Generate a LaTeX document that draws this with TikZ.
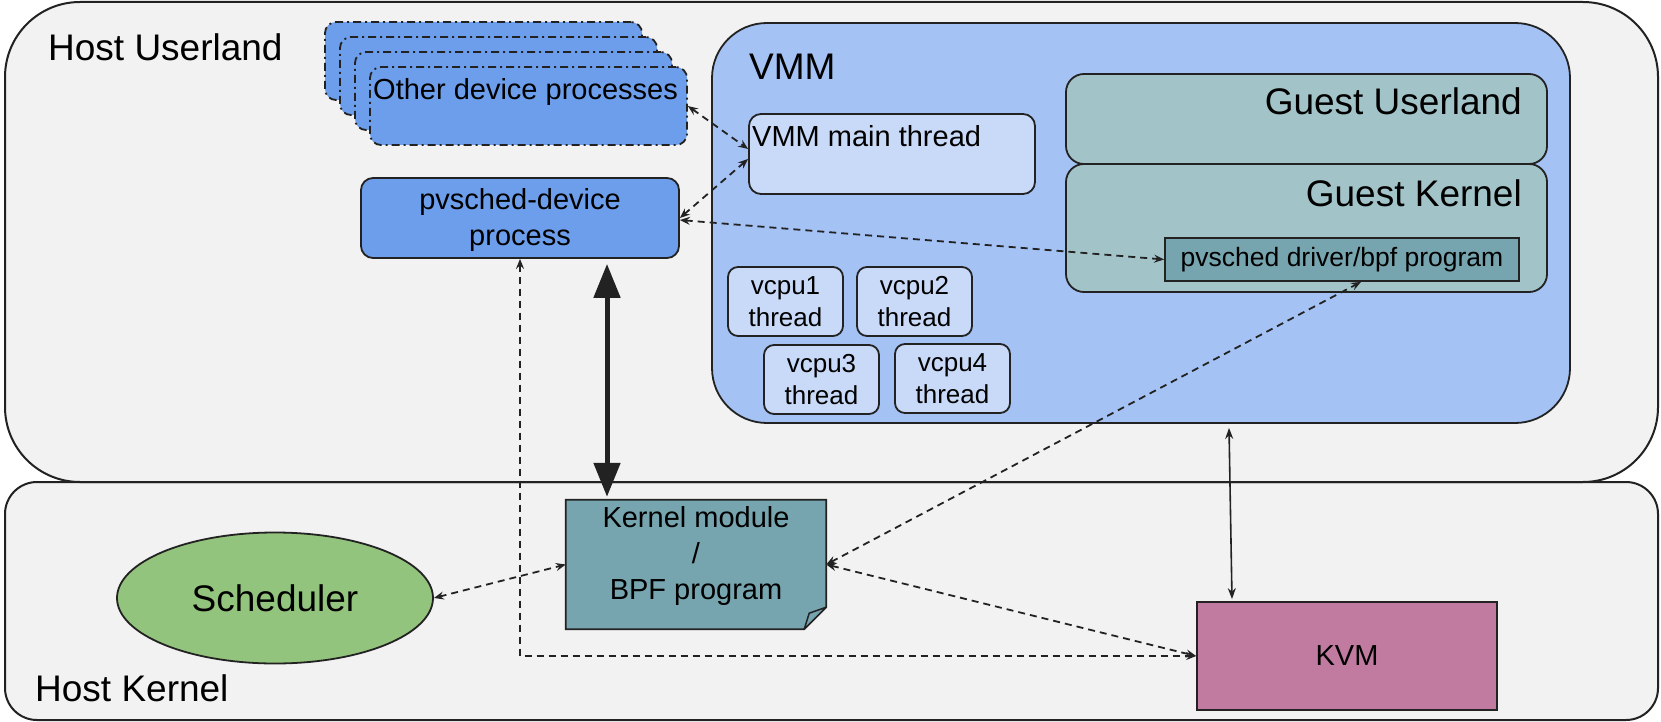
\documentclass[tikz,border=0pt]{standalone}
\usepackage{fontspec}
\setmainfont{Liberation Sans}
\usetikzlibrary{arrows.meta,calc,shapes.geometric}
\definecolor{bgg}{HTML}{F2F2F2}
\definecolor{procblue}{HTML}{6D9EEB}
\definecolor{vmmblue}{HTML}{A4C2F4}
\definecolor{thrblue}{HTML}{C9DAF8}
\definecolor{guestc}{HTML}{A2C4C9}
\definecolor{drvc}{HTML}{76A5AF}
\definecolor{schedc}{HTML}{93C47D}
\definecolor{kvmc}{HTML}{C27BA0}
\definecolor{strk}{HTML}{222222}
\newcommand{\fsA}{\fontsize{37}{42}\selectfont}
\newcommand{\fsB}{\fontsize{29}{36}\selectfont}
\newcommand{\fsC}{\fontsize{26}{32}\selectfont}
\newcommand{\fsD}{\fontsize{26.5}{32}\selectfont}
\begin{document}
\begin{tikzpicture}[x=1pt,y=-1pt,
  box/.style={draw=strk, line width=1.8pt, inner sep=0pt, text=black},
  rbox/.style={box, rounded corners=#1},
  odp/.style={rbox=11pt, fill=procblue, minimum width=317pt, minimum height=78pt,
     dash pattern=on 8pt off 4pt on 2pt off 4pt},
  thr/.style={rbox=10pt, fill=thrblue, minimum width=115pt, minimum height=69pt,
     align=center, font=\fsC},
  lbl/.style={inner sep=0pt, text=black},
  darr/.style={draw=strk, line width=1.8pt, dash pattern=on 7pt off 5pt,
     {Stealth[length=10pt,width=8pt,inset=3.5pt]}-{Stealth[length=10pt,width=8pt,inset=3.5pt]}},
  sarr/.style={draw=strk, line width=1.6pt,
     {Stealth[length=11pt,width=8pt,inset=3.5pt]}-{Stealth[length=11pt,width=8pt,inset=3.5pt]}},
  bigarr/.style={draw=strk, line width=5pt,
     {Triangle[length=34pt,width=26pt]}-{Triangle[length=34pt,width=26pt]}}
]
\useasboundingbox (0,0) rectangle (1661,722);
\fill[white] (0,0) rectangle (1661,722);

% host kernel and host userland
\node[rbox=32pt, fill=bgg, line width=2pt, minimum width=1653pt, minimum height=238pt] (hk) at (831.5,601) {};
\node[rbox=75pt, fill=bgg, line width=2pt, minimum width=1653pt, minimum height=480pt] (hu) at (831.5,242) {};
\node[lbl, anchor=base west, font=\fsA] (hutxt) at (48,61) {Host Userland};
\node[lbl, anchor=base west, font=\fsA] (hktxt) at (35,701) {Host Kernel};

% other device processes (stack)
\node[odp] (odp4) at (483.5,61) {};
\node[odp] (odp3) at (498.5,76) {};
\node[odp] (odp2) at (513.5,91) {};
\node[odp] (odp1) at (528.5,106) {};
\node[lbl, anchor=base west, font=\fsB] (odptxt) at (373,100) {Other device processes};

% pvsched-device process
\node[rbox=12pt, fill=procblue, minimum width=318pt, minimum height=80pt, align=center, font=\fsB] (pvd) at (520,218) {};
\node[lbl, align=center, font=\fsB] (pvdtxt) at (520,220) {pvsched-device\\process};

% VMM
\node[rbox=55pt, fill=vmmblue, minimum width=858pt, minimum height=400pt] (vmm) at (1141,223) {};
\node[lbl, anchor=base west, font=\fsA] (vmmtxt) at (749,80) {VMM};
\node[rbox=12pt, fill=thrblue, minimum width=286pt, minimum height=80pt] (vmt) at (892,154) {};
\node[lbl, anchor=base west, font=\fsB] (vmttxt) at (752,147) {VMM main thread};

% guest
\node[rbox=18pt, fill=guestc, minimum width=481pt, minimum height=90pt] (gu) at (1306.5,119) {};
\node[lbl, anchor=base east, font=\fsA] (gutxt) at (1522,115) {Guest Userland};
\node[rbox=18pt, fill=guestc, minimum width=481pt, minimum height=128pt] (gk) at (1306.5,228) {};
\node[lbl, anchor=base east, font=\fsA] (gktxt) at (1522,206) {Guest Kernel};
\node[box, fill=drvc, minimum width=354pt, minimum height=43pt, font=\fsD] (drv) at (1342,259.5) {pvsched driver/bpf program};

% vcpu threads
\node[thr] (v1) at (785.5,301.5) {vcpu1\\thread};
\node[thr] (v2) at (914.5,301.5) {vcpu2\\thread};
\node[thr] (v3) at (821.5,379.5) {vcpu3\\thread};
\node[thr] (v4) at (952.5,378.5) {vcpu4\\thread};

% kernel module (document shape)
\node[inner sep=0pt, minimum width=260pt, minimum height=129pt] (km) at (696,564.5) {};
\draw[fill=drvc, draw=strk, line width=1.8pt]
  (km.north west) -- (km.north east) -- ($(km.south east)+(0,-22)$) -- ($(km.south east)+(-22,0)$) -- (km.south west) -- cycle;
\draw[fill=drvc, draw=strk, line width=1.5pt, line join=round]
  ($(km.south east)+(-22,0)$) -- ($(km.south east)+(-17,-16)$) -- ($(km.south east)+(0,-22)$) -- cycle;
\node[lbl, align=center, font=\fsB] (kmtxt) at (696,556) {Kernel module\\/\\BPF program};

% scheduler
\node[ellipse, draw=strk, line width=1.8pt, fill=schedc, minimum width=316pt, minimum height=131pt, inner sep=0pt, font=\fsA] (sch) at (275,598) {Scheduler};

% KVM
\node[box, fill=kvmc, minimum width=300pt, minimum height=108pt, font=\fsB] (kvm) at (1347,656) {KVM};

% connectors
\draw[darr] (odp1.east) -- ($(vmt.west)+(0,-5)$);
\draw[darr] (pvd.east) -- ($(vmt.west)+(0,5)$);
\draw[darr] ($(pvd.east)+(0,2)$) -- (drv.west);
\draw[darr] (pvd.south) -- (pvd.south |- kvm.west) -- (kvm.west);
\draw[bigarr] ($(pvd.south)+(87,5)$) -- ($(km.north)+(-89,-3)$);
\draw[darr] (sch.east) -- (km.west);
\draw[darr] (km.east) -- ($(drv.south)+(19,0)$);
\draw[darr] (km.east) -- (kvm.west);
\coordinate (vkx) at (1230,0);
\draw[sarr] ($(vmm.south -| vkx)+(-1,4)$) -- ($(kvm.north -| vkx)+(2,-2)$);
\end{tikzpicture}
\end{document}
